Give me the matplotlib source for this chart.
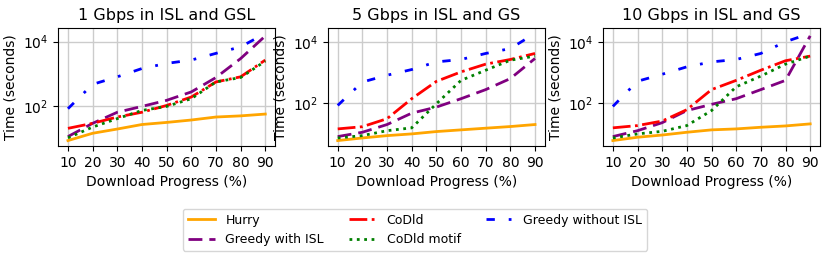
import matplotlib
matplotlib.use("Agg")
import matplotlib.pyplot as plt

progress = [10, 20, 30, 40, 50, 60, 70, 80, 90]
titles = ["1 Gbps in ISL and GSL", "5 Gbps in ISL and GS", "10 Gbps in ISL and GS"]
labels = ["Hurry", "Greedy with ISL", "CoDld", "CoDld motif", "Greedy without ISL"]
yticks = [1e2, 1e4]

hurry = [
    [8.8, 14.8, 20, 27.6, 32, 38, 47, 51, 58],
    [6.0, 7.3, 8.7, 9.9, 11.8, 13.4, 15.2, 17.2, 20],
    [6.0, 7.7, 9.1, 11.2, 13.4, 14.4, 16.3, 18, 21],
]
greedy_isl = [
    [11.7, 30, 66, 100, 154, 280, 780, 3000, 15000],
    [8.1, 11.2, 20, 47, 74, 139, 275, 630, 2850],
    [8.1, 12.6, 23, 57, 91, 139, 275, 550, 15500],
]
codld = [
    [21, 30, 47, 66, 107, 195, 570, 820, 2700],
    [14.4, 17, 31, 139, 510, 1040, 1860, 2640, 4150],
    [15.6, 18.5, 26, 61, 275, 550, 1180, 2400, 3400],
]
codld_motif = [
    [10.7, 23, 42, 75, 100, 173, 570, 780, 2500],
    [7.3, 8.7, 12.6, 15.6, 95, 550, 1180, 2500, 3400],
    [7.3, 9.9, 12, 18.5, 57, 340, 760, 1860, 3400],
]
greedy_no_isl = [
    [85, 480, 820, 1480, 2130, 2700, 4350, 6900, 18000],
    [84, 485, 810, 1240, 2200, 2640, 4150, 6000, 18700],
    [78, 515, 870, 1520, 2200, 2640, 4150, 10000, 18700],
]

series = [hurry, greedy_isl, codld, codld_motif, greedy_no_isl]
colors = ["orange", "purple", "red", "green", "blue"]
styles = ["-", (0, (5, 2.5)), "-.", ":", (0, (3, 5, 1, 5))]

fig = plt.figure(figsize=(8.3, 2.62), dpi=100)
lefts = [0.070, 0.395, 0.7265]
for i in range(3):
    ax = fig.add_axes([lefts[i], 0.443, 0.2615, 0.45])
    handles = []
    for s, c, ls, lab in zip(series, colors, styles, labels):
        h, = ax.plot(progress, s[i], color=c, linestyle=ls, linewidth=2, label=lab)
        handles.append(h)
    ax.set_yscale("log")
    ax.set_xticks(progress)
    ax.set_yticks(yticks)
    ax.yaxis.set_minor_locator(matplotlib.ticker.NullLocator())
    ax.tick_params(labelsize=10)
    ax.grid(True, color="#cccccc", linewidth=1)
    ax.set_title(titles[i], fontsize=11.5)
    ax.set_xlabel("Download Progress (%)", fontsize=10)
    ax.set_ylabel("Time (seconds)", fontsize=10)

fig.legend(handles, labels, ncol=3, loc="center", bbox_to_anchor=(0.5, 0.123),
           fontsize=9, handlelength=2.2, columnspacing=2.0)
fig.savefig("out.png", dpi=100)
